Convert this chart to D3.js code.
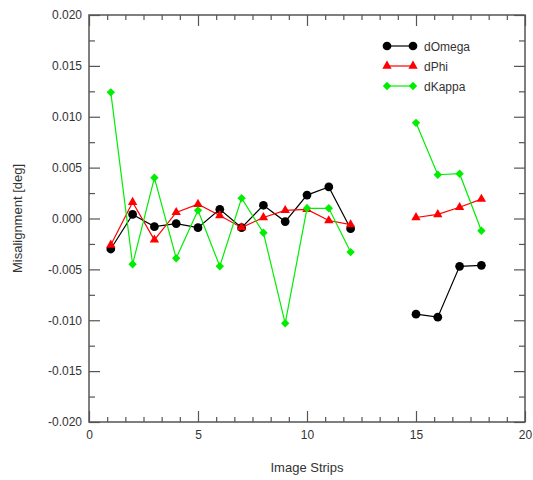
<!DOCTYPE html>
<html>
<head>
<meta charset="utf-8">
<script src="https://cdn.jsdelivr.net/npm/d3@7"></script>
<style>
  html, body { margin: 0; padding: 0; background: #fff; }
  svg { display: block; font-family: "Liberation Sans", Arial, sans-serif; }
</style>
</head>
<body>
<svg id="chart" width="533" height="480"></svg>
<script>
// ---- data ----
const strips = [1, 2, 3, 4, 5, 6, 7, 8, 9, 10, 11, 12, 15, 16, 17, 18];
const dOmega = [-0.0030, 0.0004, -0.0008, -0.0005, -0.0009, 0.0009, -0.0009, 0.0013, -0.0003, 0.0023, 0.0031, -0.0010, -0.0094, -0.0097, -0.0047, -0.0046];
const dPhi   = [-0.0026, 0.0016, -0.0021, 0.0006, 0.0014, 0.0003, -0.0009, 0.0001, 0.0008, 0.0009, -0.0002, -0.0006, 0.0001, 0.0004, 0.0011, 0.0019];
const dKappa = [0.0124, -0.0045, 0.0040, -0.0039, 0.0008, -0.0047, 0.0020, -0.0014, -0.0103, 0.0010, 0.0010, -0.0033, 0.0094, 0.0043, 0.0044, -0.0012];
const seriesNames = ["dOmega", "dPhi", "dKappa"];
const xMajorTicks = [0, 5, 10, 15, 20];
const yMajorTicks = [-0.020, -0.015, -0.010, -0.005, 0.000, 0.005, 0.010, 0.015, 0.020];

const seriesData = [dOmega, dPhi, dKappa];
const colors = ["#000000", "#ff0000", "#00ee00"];
const shapes = [d3.symbolCircle, d3.symbolTriangle, d3.symbolDiamond2 || d3.symbolSquare];
const sizes = [60, 38, 45];
const rotations = [0, 0, d3.symbolDiamond2 ? 0 : 45];

const svg = d3.select("#chart");
const L = 89, R = 525, T = 15, B = 422;
const x = d3.scaleLinear().domain([0, 20]).range([L, R]);
const y = d3.scaleLinear().domain([-0.02, 0.02]).range([B, T]);

const axisColor = "#555";
// minor ticks
const xMinor = d3.range(0, 24).map(i => i * 5 / 6).filter(v => v <= 20 && Math.abs(v / 5 - Math.round(v / 5)) > 1e-6);
const yMinor = d3.range(-0.0175, 0.02, 0.005);

function styleAxis(g) {
  g.select(".domain").remove();
  g.selectAll("line").attr("stroke", axisColor).attr("stroke-width", 1.2);
  g.selectAll("text").attr("fill", "#333").attr("font-size", 12);
}

// frame
svg.append("rect").attr("x", L).attr("y", T).attr("width", R - L).attr("height", B - T)
  .attr("fill", "none").attr("stroke", axisColor).attr("stroke-width", 1.5);

// bottom
svg.append("g").attr("transform", `translate(0,${B})`)
  .call(d3.axisBottom(x).tickValues(xMajorTicks).tickSize(-11).tickPadding(8).tickFormat(d3.format("d")))
  .call(styleAxis);
svg.append("g").attr("transform", `translate(0,${B})`)
  .call(d3.axisBottom(x).tickValues(xMinor).tickSize(-5).tickFormat(""))
  .call(styleAxis);
// top
svg.append("g").attr("transform", `translate(0,${T})`)
  .call(d3.axisTop(x).tickValues(xMajorTicks).tickSize(-11).tickFormat(""))
  .call(styleAxis);
svg.append("g").attr("transform", `translate(0,${T})`)
  .call(d3.axisTop(x).tickValues(xMinor).tickSize(-5).tickFormat(""))
  .call(styleAxis);
// left
svg.append("g").attr("transform", `translate(${L},0)`)
  .call(d3.axisLeft(y).tickValues(yMajorTicks).tickSize(-11).tickPadding(7).tickFormat(d => d.toFixed(3)))
  .call(styleAxis);
svg.append("g").attr("transform", `translate(${L},0)`)
  .call(d3.axisLeft(y).tickValues(yMinor).tickSize(-6).tickFormat(""))
  .call(styleAxis);
// right
svg.append("g").attr("transform", `translate(${R},0)`)
  .call(d3.axisRight(y).tickValues(yMajorTicks).tickSize(-11).tickFormat(""))
  .call(styleAxis);
svg.append("g").attr("transform", `translate(${R},0)`)
  .call(d3.axisRight(y).tickValues(yMinor).tickSize(-6).tickFormat(""))
  .call(styleAxis);

// axis titles
svg.append("text").attr("x", (L + R) / 2).attr("y", 472).attr("text-anchor", "middle")
  .attr("font-size", 13).attr("fill", "#333").text("Image Strips");
svg.append("text").attr("transform", `translate(22,${(T + B) / 2}) rotate(-90)`)
  .attr("text-anchor", "middle").attr("font-size", 13).attr("fill", "#333").text("Misalignment [deg]");

// split into contiguous segments
function segments(vals) {
  const segs = [];
  let cur = [];
  strips.forEach((s, i) => {
    if (cur.length && s - cur[cur.length - 1][0] > 1) { segs.push(cur); cur = []; }
    cur.push([s, vals[i]]);
  });
  if (cur.length) segs.push(cur);
  return segs;
}
const line = d3.line().x(d => x(d[0])).y(d => y(d[1]));

seriesData.forEach((vals, k) => {
  const g = svg.append("g");
  segments(vals).forEach(seg => {
    g.append("path").attr("d", line(seg)).attr("fill", "none")
      .attr("stroke", colors[k]).attr("stroke-width", 1.2);
  });
  g.selectAll("path.m").data(strips.map((s, i) => [s, vals[i]])).join("path")
    .attr("class", "m")
    .attr("transform", d => `translate(${x(d[0])},${y(d[1])}) rotate(${rotations[k]})`)
    .attr("d", d3.symbol().type(shapes[k]).size(sizes[k]))
    .attr("fill", colors[k]);
});

// legend
const lg = svg.append("g");
seriesNames.forEach((name, k) => {
  const yy = 46 + k * 20;
  lg.append("line").attr("x1", 387).attr("x2", 413).attr("y1", yy).attr("y2", yy)
    .attr("stroke", colors[k]).attr("stroke-width", 1.2);
  [387, 413].forEach(xx => {
    lg.append("path").attr("transform", `translate(${xx},${yy}) rotate(${rotations[k]})`)
      .attr("d", d3.symbol().type(shapes[k]).size(sizes[k])).attr("fill", colors[k]);
  });
  lg.append("text").attr("x", 424).attr("y", yy + 4.5).attr("font-size", 12)
    .attr("fill", "#333").text(name);
});
</script>
</body>
</html>
